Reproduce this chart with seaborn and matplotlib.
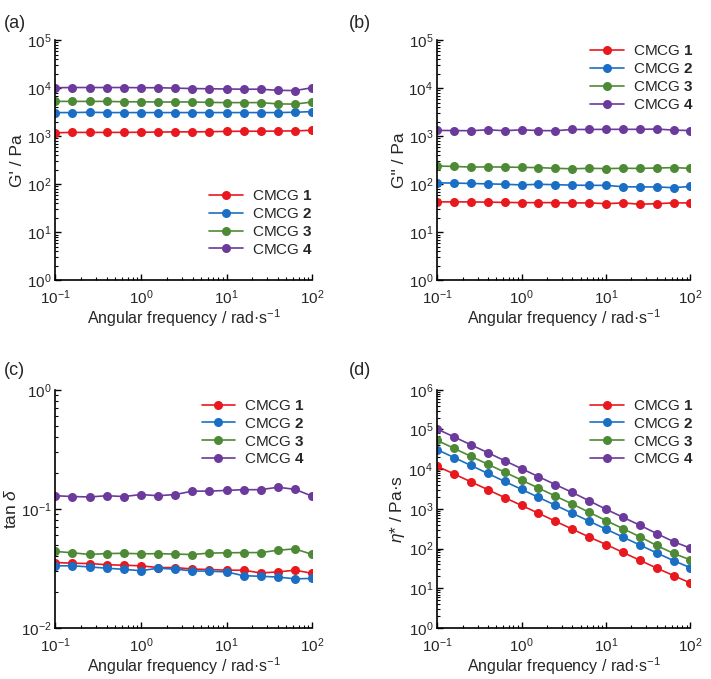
import pandas as pd
import seaborn as sns
import matplotlib.pyplot as plt
from matplotlib.ticker import LogLocator, NullFormatter

# angular frequency (rad/s), 5 points per decade
freq = [0.1, 0.158, 0.251, 0.398, 0.631, 1.0, 1.58, 2.51, 3.98, 6.31,
        10.0, 15.8, 25.1, 39.8, 63.1, 100.0]
samples = ["CMCG $\\mathbf{1}$", "CMCG $\\mathbf{2}$",
           "CMCG $\\mathbf{3}$", "CMCG $\\mathbf{4}$"]
colors = ["#e8191e", "#1a6fc4", "#4e8a35", "#6b3a9b"]

# G' / Pa
g1_storage = [1180, 1200, 1200, 1200, 1200, 1210, 1220, 1230, 1230, 1240, 1260, 1270, 1270, 1280, 1290, 1330]
g2_storage = [3100, 3100, 3150, 3100, 3100, 3100, 3100, 3100, 3100, 3100, 3100, 3100, 3100, 3100, 3150, 3250]
g3_storage = [5300, 5300, 5300, 5300, 5200, 5200, 5150, 5150, 5150, 5050, 5000, 5000, 5000, 4700, 4650, 5150]
g4_storage = [10200, 10300, 10300, 10300, 10300, 10200, 10200, 10000, 9800, 9700, 9600, 9500, 9500, 9000, 8900, 10200]

# G'' / Pa
g1_loss = [43, 43, 43, 42.5, 42, 41.5, 41.5, 41.5, 41, 41, 39.5, 41, 38.5, 39.5, 41, 41]
g2_loss = [107, 106, 104, 102, 100, 97, 100, 98, 96, 95, 95, 89, 88, 88, 85, 90]
g3_loss = [240, 235, 228, 230, 228, 225, 222, 215, 210, 215, 212, 215, 214, 218, 222, 215]
g4_loss = [1320, 1310, 1300, 1360, 1300, 1360, 1310, 1300, 1380, 1380, 1390, 1390, 1390, 1410, 1340, 1310]

# tan delta
t1 = [0.0355, 0.0350, 0.0348, 0.0340, 0.0337, 0.0333, 0.0322, 0.0322, 0.0313, 0.0310, 0.0306, 0.0306, 0.0290, 0.0296, 0.0306, 0.0288]
t2 = [0.0333, 0.0333, 0.0326, 0.0318, 0.0311, 0.0303, 0.0318, 0.0312, 0.0302, 0.0300, 0.0296, 0.0275, 0.0272, 0.0268, 0.0259, 0.0261]
t3 = [0.0440, 0.0428, 0.0415, 0.0422, 0.0424, 0.0420, 0.0421, 0.0418, 0.0414, 0.0426, 0.0428, 0.0430, 0.0430, 0.0450, 0.0462, 0.0415]
t4 = [0.129, 0.127, 0.126, 0.129, 0.127, 0.132, 0.129, 0.132, 0.141, 0.141, 0.143, 0.145, 0.145, 0.152, 0.146, 0.128]

# eta* / Pa s
e1 = [11800, 7600, 4800, 3050, 1920, 1220, 780, 490, 310, 196, 127, 81, 51, 32.5, 21, 13.6]
e2 = [31000, 19600, 12400, 7800, 4900, 3100, 1960, 1240, 780, 490, 310, 196, 124, 78, 50, 33]
e3 = [53000, 33500, 21000, 13300, 8400, 5300, 3350, 2100, 1330, 820, 510, 320, 200, 120, 76, 52]
e4 = [102000, 65000, 41000, 26000, 16300, 10300, 6500, 4100, 2600, 1600, 980, 620, 390, 240, 150, 103]

panels = [
    ("(a)", "G' / Pa", [g1_storage, g2_storage, g3_storage, g4_storage], (1, 1e5)),
    ("(b)", 'G" / Pa', [g1_loss, g2_loss, g3_loss, g4_loss], (1, 1e5)),
    ("(c)", "tan $\\mathit{\\delta}$", [t1, t2, t3, t4], (1e-2, 1)),
    ("(d)", "$\\mathit{\\eta}$* / Pa·s", [e1, e2, e3, e4], (1, 1e6)),
]

# axes positions in figure fraction and legend placement
rects = [[0.078, 0.587, 0.361, 0.354], [0.615, 0.587, 0.356, 0.354],
         [0.078, 0.075, 0.361, 0.351], [0.615, 0.075, 0.356, 0.351]]
legend_pos = [("lower right", (1.04, 0.06)), ("upper right", (1.05, 1.02)),
              ("upper right", (1.01, 1.0)), ("upper right", (1.05, 1.0))]
label_pos = [(0.005, 0.965), (0.49, 0.965), (0.005, 0.455), (0.49, 0.455)]

sns.set_theme(style="ticks")
plt.rcParams["font.family"] = ["Liberation Sans", "DejaVu Sans"]
plt.rcParams["mathtext.fontset"] = "custom"
plt.rcParams["mathtext.rm"] = "Liberation Sans"
plt.rcParams["mathtext.it"] = "Liberation Sans:italic"
plt.rcParams["mathtext.bf"] = "Liberation Sans:bold"

fig = plt.figure(figsize=(7.11, 6.79), dpi=100)

for i, (tag, ylabel, series, ylim) in enumerate(panels):
    ax = fig.add_axes(rects[i])
    rows = []
    for name, vals in zip(samples, series):
        for f, v in zip(freq, vals):
            rows.append({"freq": f, "value": v, "sample": name})
    df = pd.DataFrame(rows)

    sns.lineplot(data=df, x="freq", y="value", hue="sample", palette=colors,
                 marker="o", markersize=6.5, markeredgewidth=0, linewidth=1.2,
                 ax=ax)
    ax.set_xscale("log")
    ax.set_yscale("log")
    ax.set_xlim(0.1, 100)
    ax.set_ylim(*ylim)
    ax.set_xlabel("Angular frequency / rad·s$^{-1}$", fontsize=11.5, labelpad=0)
    ax.set_ylabel(ylabel, fontsize=12.5, labelpad=1)

    ax.xaxis.set_major_locator(LogLocator(base=10, numticks=10))
    ax.xaxis.set_minor_locator(LogLocator(base=10, subs=range(2, 10), numticks=20))
    ax.yaxis.set_major_locator(LogLocator(base=10, numticks=10))
    ax.yaxis.set_minor_locator(LogLocator(base=10, subs=range(2, 10), numticks=20))
    ax.xaxis.set_minor_formatter(NullFormatter())
    ax.yaxis.set_minor_formatter(NullFormatter())
    ax.tick_params(which="both", direction="in", labelsize=11, color="black")
    ax.tick_params(which="major", length=4, width=1)
    ax.tick_params(which="minor", length=2.5, width=0.8)
    ax.tick_params(axis="x", which="major", pad=6)
    ax.tick_params(axis="y", which="major", pad=3)
    for s in ["left", "bottom"]:
        ax.spines[s].set_linewidth(1.2)
        ax.spines[s].set_color("black")
    sns.despine(ax=ax)

    loc, anchor = legend_pos[i]
    ax.legend(loc=loc, bbox_to_anchor=anchor, frameon=False, fontsize=11,
              handlelength=2.2, labelspacing=0.25, handletextpad=0.6,
              borderaxespad=0.2)
    fig.text(label_pos[i][0], label_pos[i][1], tag, fontsize=13,
             ha="left", va="center")

fig.savefig("out.png", dpi=100)
